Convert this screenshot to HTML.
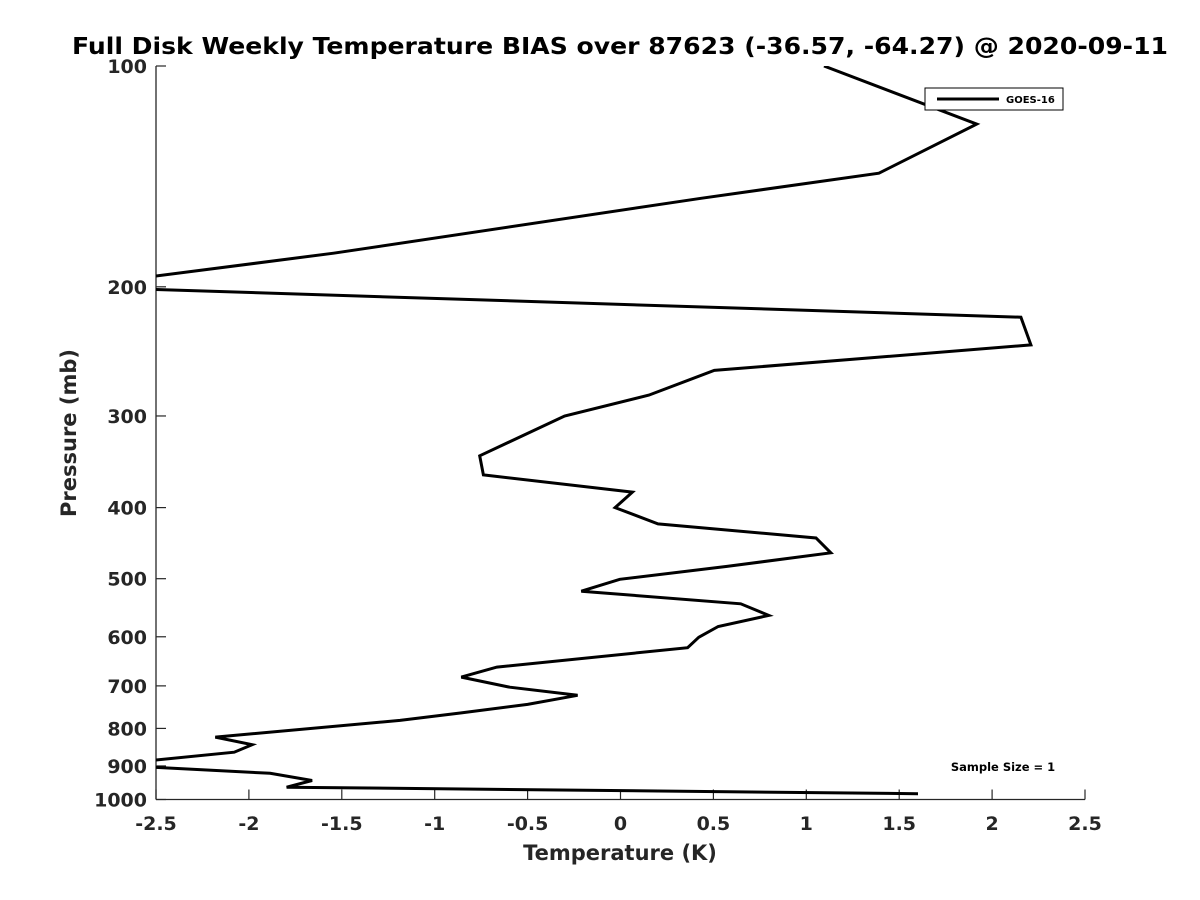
<!DOCTYPE html>
<html><head><meta charset="utf-8"><style>
html,body{margin:0;padding:0;background:#fff;}
svg{display:block;font-family:"DejaVu Sans","Liberation Sans",sans-serif;font-weight:bold;}
</style></head><body>
<svg id="chart" width="1200" height="900" viewBox="0 0 1200 900">
<rect x="0" y="0" width="1200" height="900" fill="#fff"/>
<defs><clipPath id="plotclip"><rect x="156" y="66" width="929" height="734"/></clipPath></defs>
<text x="620" y="54" text-anchor="middle" font-size="23" fill="#000" textLength="1096" lengthAdjust="spacingAndGlyphs">Full Disk Weekly Temperature BIAS over 87623 (-36.57, -64.27) @ 2020-09-11</text>
<g id="axes"></g>
<g id="series" clip-path="url(#plotclip)"></g>
<text x="620" y="860" text-anchor="middle" font-size="21" fill="#262626">Temperature (K)</text>
<text transform="translate(76,433) rotate(-90)" text-anchor="middle" font-size="21" fill="#262626">Pressure (mb)</text>
<g>
<rect x="925" y="88" width="138" height="22" fill="#fff" stroke="#000" stroke-width="1"/>
<line x1="937" y1="99" x2="999" y2="99" stroke="#000" stroke-width="3"/>
<text x="1006" y="103" font-size="10" fill="#000">GOES-16</text>
</g>
<text x="1003" y="771" text-anchor="middle" font-size="11.5" fill="#000">Sample Size = 1</text>
</svg>
<script>
const temps = [1.095,1.917,1.391,0.433,-1.544,-2.95,2.155,2.209,0.505,0.153,-0.301,-0.758,-0.738,0.064,-0.029,0.202,1.052,1.132,0.573,-0.004,-0.211,0.647,0.798,0.526,0.421,0.361,-0.665,-0.857,-0.596,-0.231,-0.5,-0.857,-1.187,-2.181,-1.983,-2.079,-2.765,-1.886,-1.66,-1.797,1.601];
const pressures = [100,120,140,151.5,180,200,220,240,260,281,300,340,361,381,400,421,440,461,481,501,520,541,561,581,601,621,660,681,703,721,742,762,780,822,842,862,897,921,942,962,982];
const xTicks = [-2.5,-2,-1.5,-1,-0.5,0,0.5,1,1.5,2,2.5];
const xTickLabels = ["-2.5","-2","-1.5","-1","-0.5","0","0.5","1","1.5","2","2.5"];
const yTicks = [100,200,300,400,500,600,700,800,900,1000];
const yTickLabels = ["100","200","300","400","500","600","700","800","900","1000"];

const NS = "http://www.w3.org/2000/svg";
const L = 156, R = 1085, T = 66, B = 799.5;
function xScale(v){ return L + (v - (-2.5)) / 5 * (R - L); }
function yScale(p){ return T + Math.log10(p / 100) * (B - T); }

const axes = document.getElementById('axes');
function mk(tag, attrs, parent){ const e = document.createElementNS(NS, tag); for (const k in attrs) e.setAttribute(k, attrs[k]); parent.appendChild(e); return e; }

const xAxis = mk('line', {x1:L, y1:B, x2:R, y2:B, stroke:'#262626', 'stroke-width':1.3}, axes);


const yAxis = mk('line', {x1:L, y1:T, x2:L, y2:B, stroke:'#262626', 'stroke-width':1.3}, axes);



xTicks.forEach((v, i) => {
  const x = xScale(v);
  const t = mk('line', {x1:x, y1:B, x2:x, y2:B-10, stroke:'#262626', 'stroke-width':1.2}, axes);
  
  
  const lb = mk('text', {x:x, y:830, 'text-anchor':'middle', 'font-size':19, fill:'#262626'}, axes);
  lb.textContent = xTickLabels[i];
  
  
});
yTicks.forEach((v, i) => {
  const y = yScale(v);
  const t = mk('line', {x1:L, y1:y, x2:L+10, y2:y, stroke:'#262626', 'stroke-width':1.2}, axes);
  
  
  const lb = mk('text', {x:147, y:y+7, 'text-anchor':'end', 'font-size':19, fill:'#262626'}, axes);
  lb.textContent = yTickLabels[i];
  
  
});

const series = document.getElementById('series');
const pts = temps.map((v, i) => xScale(v).toFixed(1) + ',' + yScale(pressures[i]).toFixed(1)).join(' ');
const line = mk('polyline', {points:pts, fill:'none', stroke:'#000', 'stroke-width':3, 'stroke-linejoin':'miter'}, series);


</script>
</body></html>
